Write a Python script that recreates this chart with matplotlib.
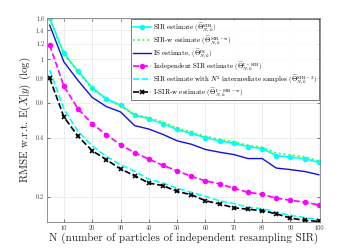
import matplotlib
matplotlib.use("Agg")
import matplotlib.pyplot as plt
import numpy as np

N = [5, 10, 15, 20, 25, 30, 35, 40, 45, 50, 55, 60, 65, 70, 75, 80, 85, 90, 95, 100]
sir = [1.62, 1.07, 0.87, 0.717, 0.63, 0.585, 0.52, 0.50, 0.47, 0.44, 0.42, 0.40,
       0.385, 0.375, 0.36, 0.352, 0.324, 0.318, 0.313, 0.299]
sir_w = [1.60, 1.06, 0.86, 0.71, 0.625, 0.58, 0.522, 0.505, 0.478, 0.447, 0.427, 0.405,
         0.392, 0.38, 0.366, 0.356, 0.334, 0.326, 0.32, 0.304]
is_est = [1.49, 0.97, 0.78, 0.64, 0.575, 0.54, 0.46, 0.442, 0.415, 0.385, 0.37, 0.348,
          0.337, 0.328, 0.313, 0.313, 0.28, 0.275, 0.269, 0.259]
isir = [1.18, 0.73, 0.56, 0.47, 0.414, 0.368, 0.335, 0.311, 0.289, 0.271, 0.254, 0.241,
        0.233, 0.221, 0.211, 0.206, 0.197, 0.192, 0.188, 0.182]
sir2 = [0.88, 0.56, 0.43, 0.363, 0.321, 0.291, 0.27, 0.246, 0.235, 0.221, 0.211, 0.201,
        0.191, 0.185, 0.177, 0.174, 0.167, 0.161, 0.157, 0.153]
isirw = [0.80, 0.51, 0.406, 0.343, 0.309, 0.277, 0.256, 0.235, 0.228, 0.213, 0.205, 0.191,
         0.184, 0.176, 0.173, 0.170, 0.164, 0.156, 0.152, 0.150]

labels = [
    r'SIR estimate ($\widehat{\Theta}_{N,k}^{\rm SIR}$)',
    r'SIR-w estimate ($\widehat{\Theta}_{N,k}^{\rm SIR-w}$)',
    r'IS estimate, ($\widehat{\Theta}_{N,k}^{\rm IS}$)',
    r'Independent SIR estimate ($\widehat{\Theta}_{N,k}^{\rm I-SIR}$)',
    r'SIR estimate with $N^2$ intermediate samples ($\widehat{\Theta}_{N,k}^{\rm SIR-2}$)',
    r'I-SIR-w estimate ($\widehat{\Theta}_{N,k}^{\rm I-SIR-w}$)',
]
yticks = [0.2, 0.4, 0.6, 0.8, 1.0, 1.2, 1.4, 1.6]
yticklabels = ['0.2', '0.4', '0.6', '0.8', '1', '1.2', '1.4', '1.6']
xticks = [10, 20, 30, 40, 50, 60, 70, 80, 90, 100]

plt.rcParams['font.family'] = 'serif'
plt.rcParams['font.serif'] = ['cmr10', 'DejaVu Serif']
plt.rcParams['mathtext.fontset'] = 'cm'
plt.rcParams['axes.unicode_minus'] = False

fig = plt.figure(figsize=(3.55, 2.5), dpi=100)
ax = fig.add_axes([0.132, 0.112, 0.770, 0.816])

ax.plot(N, sir, '-', color='cyan', lw=1.2, marker='o', ms=3, label=labels[0])
ax.plot(N, sir_w, ':', color='#33ff33', lw=1.3, label=labels[1])
ax.plot(N, is_est, '-', color='#1010e0', lw=1.0, label=labels[2])
ax.plot(N, isir, '--', color='magenta', lw=1.2, marker='o', ms=3, label=labels[3])
ax.plot(N, sir2, '--', color='cyan', lw=1.2, label=labels[4])
ax.plot(N, isirw, '--', color='black', lw=1.2, marker='x', ms=3, mew=1.2, label=labels[5])

ax.set_yscale('log')
ax.set_ylim(0.149, 1.62)
ax.set_xlim(4, 100.5)
ax.set_yticks(yticks)
ax.set_yticklabels(yticklabels)
ax.minorticks_off()
ax.set_xticks(xticks)
ax.set_xticklabels([str(v) for v in xticks])
ax.tick_params(direction='in', labelsize=4.5, length=2, width=0.5, top=True, right=True,
               colors='#404040', pad=2)
ax.grid(True, color='#e6e6e6', lw=0.5)
for s in ax.spines.values():
    s.set_color('#808080')
    s.set_linewidth(0.6)

ax.set_xlabel('N (number of particles of independent resampling SIR)', fontsize=8, labelpad=1.5,
              color='#262626')
ax.set_ylabel(r'RMSE w.r.t. $\mathrm{E}(X|y)$ (log)', fontsize=8, labelpad=2, color='#262626')

leg = ax.legend(loc='upper right', fontsize=5.0, frameon=True, fancybox=False,
                edgecolor='#404040', handlelength=2.6, handletextpad=0.3,
                borderpad=0.25, labelspacing=0.0, borderaxespad=0.15)
leg.get_frame().set_linewidth(0.6)

fig.savefig('out.png', dpi=100)
